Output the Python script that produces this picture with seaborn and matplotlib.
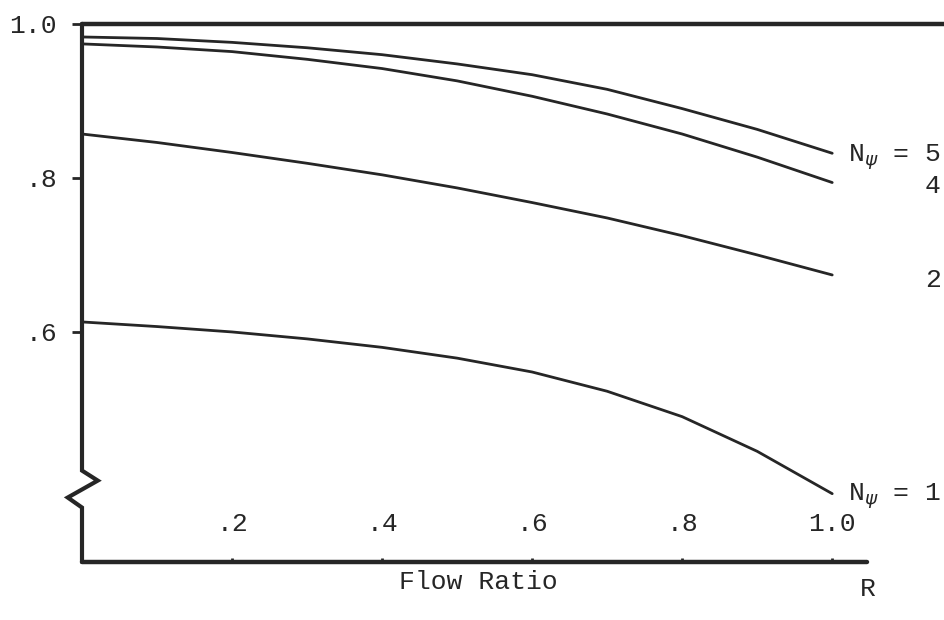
import numpy as np
import pandas as pd
import seaborn as sns
import matplotlib.pyplot as plt

# values
flow_ratio = [0.0, 0.1, 0.2, 0.3, 0.4, 0.5, 0.6, 0.7, 0.8, 0.9, 1.0]
n5 = [0.983, 0.981, 0.976, 0.969, 0.960, 0.948, 0.934, 0.915, 0.890, 0.863, 0.832]
n4 = [0.974, 0.970, 0.964, 0.954, 0.942, 0.926, 0.906, 0.883, 0.857, 0.827, 0.794]
n2 = [0.857, 0.846, 0.833, 0.819, 0.804, 0.787, 0.768, 0.748, 0.725, 0.700, 0.674]
n1 = [0.613, 0.607, 0.600, 0.591, 0.580, 0.566, 0.548, 0.523, 0.490, 0.445, 0.390]

x_ticks = [0.2, 0.4, 0.6, 0.8, 1.0]
x_tick_labels = [".2", ".4", ".6", ".8", "1.0"]
y_ticks = [0.6, 0.8, 1.0]
y_tick_labels = [".6", ".8", "1.0"]

df = pd.concat([
    pd.DataFrame({"R": flow_ratio, "val": n5, "N": "5"}),
    pd.DataFrame({"R": flow_ratio, "val": n4, "N": "4"}),
    pd.DataFrame({"R": flow_ratio, "val": n2, "N": "2"}),
    pd.DataFrame({"R": flow_ratio, "val": n1, "N": "1"}),
])

sns.set_theme(style="white")
plt.rcParams["font.family"] = ["Liberation Mono", "DejaVu Sans"]
plt.rcParams["mathtext.fontset"] = "dejavusans"

ink = "#262626"
fig = plt.figure(figsize=(9.44, 6.2), dpi=100)
ax = fig.add_axes([82 / 944, 1 - 562 / 620, 1 - 82 / 944, 562 / 620])

sns.lineplot(data=df, x="R", y="val", hue="N", palette=[ink] * 4,
             legend=False, linewidth=2.0, ax=ax)

x_max, y_min, y_max = 1.149, 0.3013, 1.031
ax.set_xlim(0, x_max)
ax.set_ylim(y_min, y_max)
for s in ax.spines.values():
    s.set_visible(False)

# frame: top line, bottom axis, broken left axis
ax.plot([0, x_max], [1.0, 1.0], color=ink, lw=3.2, clip_on=False,
        solid_capstyle="round")
ax.plot([0, 1.047], [y_min, y_min], color=ink, lw=3.2, clip_on=False)
ax.plot([0, 0, 0.021, -0.019, 0, 0], [1.0, 0.420, 0.407, 0.385, 0.372, y_min],
        color=ink, lw=3.0, clip_on=False, solid_joinstyle="miter")

ax.set_xticks(x_ticks, x_tick_labels)
ax.set_yticks(y_ticks, y_tick_labels)
ax.tick_params(axis="x", bottom=True, direction="in", length=3, width=2,
               color=ink, pad=-36, labelsize=19, labelcolor=ink)
ax.tick_params(axis="y", left=True, direction="out", length=7, width=2,
               color=ink, pad=11, labelsize=19, labelcolor=ink)
ax.set_xlabel("")
ax.set_ylabel("")

# curve labels at right
lab = dict(color=ink, fontsize=19, ha="right", va="center")
ax.text(x_max - 0.004, 0.827, r"N$_{\psi}$ = 5", **lab)
ax.text(x_max - 0.004, 0.790, "4", **lab)
ax.text(x_max - 0.004, 0.667, "2", **lab)
ax.text(x_max - 0.004, 0.387, r"N$_{\psi}$ = 1", **lab)

ax.text(1.048, 0.266, "R", color=ink, fontsize=19, ha="center", va="center",
        clip_on=False)
ax.text(0.528, 0.275, "Flow Ratio", color=ink, fontsize=19, ha="center",
        va="center", clip_on=False)

plt.savefig("out.png", dpi=100)
